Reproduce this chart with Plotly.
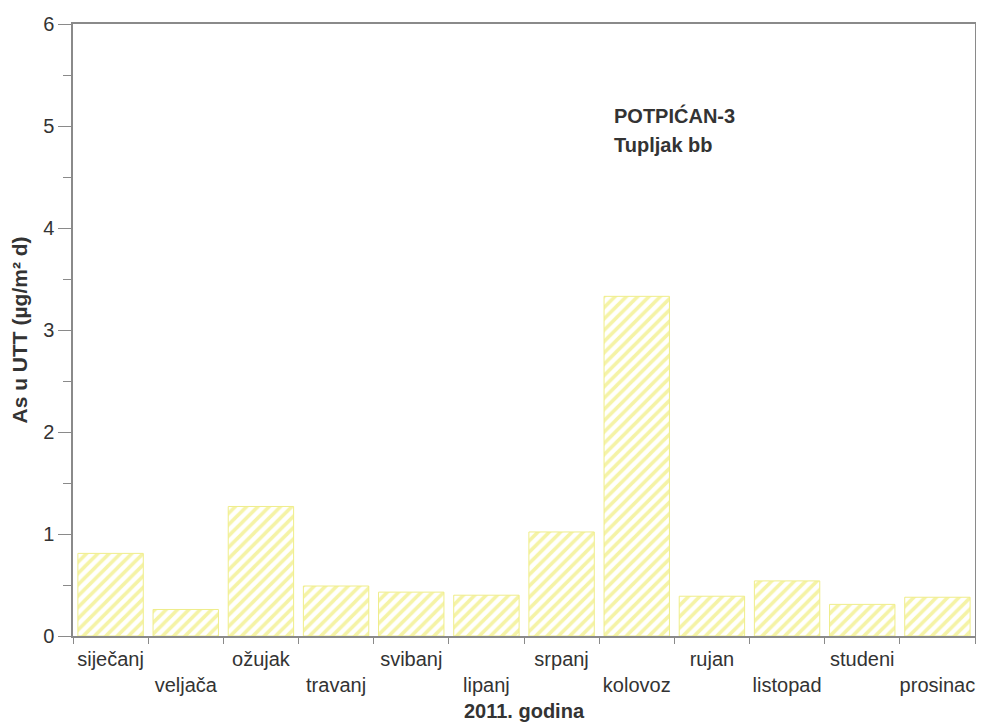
import plotly.graph_objects as go

months = ["siječanj", "veljača", "ožujak", "travanj", "svibanj", "lipanj",
          "srpanj", "kolovoz", "rujan", "listopad", "studeni", "prosinac"]
values = [0.81, 0.26, 1.27, 0.49, 0.43, 0.40, 1.02, 3.33, 0.39, 0.54, 0.31, 0.38]
y_ticks = [0, 1, 2, 3, 4, 5, 6]
station_lines = ["POTPIĆAN-3", "Tupljak bb"]

# alternate label rows: even-indexed on row 1, odd-indexed shifted to row 2
tick_text = [m if i % 2 == 0 else "<br>" + m for i, m in enumerate(months)]

yellow = "#ebe84e"
axis_col = "#8a8a8a"
text_col = "#333333"

fig = go.Figure()
fig.add_trace(go.Bar(
    x=months, y=values, width=0.87,
    marker=dict(
        color="white",
        line=dict(color="#efed8a", width=1),
        pattern=dict(shape="/", fgcolor=yellow, bgcolor="white", size=8, solidity=0.45),
    ),
))

fig.update_layout(
    width=984, height=724,
    margin=dict(l=65, r=17, t=16, b=96),
    paper_bgcolor="white", plot_bgcolor="white",
    font=dict(family="Liberation Sans, Arial, sans-serif", color=text_col),
    showlegend=False,
    bargap=0.13,
)
fig.update_xaxes(
    type="category", automargin=False,
    tickmode="array", tickvals=months, ticktext=tick_text, tickangle=0,
    tickfont=dict(size=20, color=text_col),
    ticks="outside", ticklen=6, tickcolor=axis_col, tickson="boundaries",
    ticklabelstandoff=4,
    showline=True, linecolor=axis_col, linewidth=1.5, mirror=True,
    showgrid=False, range=[-0.5, 11.5],
    title=dict(text="<b>2011. godina</b>", font=dict(size=20, color=text_col), standoff=9),
)
fig.update_yaxes(
    range=[0, 6], tickvals=y_ticks, ticktext=[str(v) for v in y_ticks],
    automargin=False,
    tickfont=dict(size=20, color=text_col),
    ticks="outside", ticklen=13, tickcolor=axis_col,
    minor=dict(ticks="outside", ticklen=8, dtick=0.5, tickcolor=axis_col),
    showline=True, linecolor=axis_col, linewidth=1.5, mirror=True,
    showgrid=False, zeroline=False,
    title=dict(text="<b>As u UTT (µg/m² d)</b>", font=dict(size=21, color=text_col), standoff=12),
)

for line, ypos in zip(station_lines, [0.85, 0.802]):
    fig.add_annotation(
        x=0.5976, y=ypos, xref="paper", yref="paper",
        text="<b>" + line + "</b>",
        showarrow=False, align="left", xanchor="left", yanchor="middle",
        font=dict(size=20, color=text_col),
    )

fig.write_html("out.html")
